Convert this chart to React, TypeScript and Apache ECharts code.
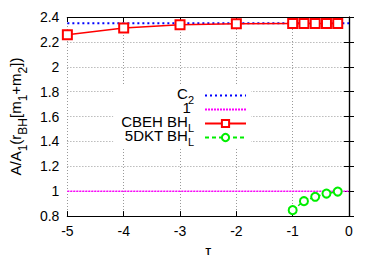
import React, { useEffect, useRef } from "react";
import * as echarts from "echarts";

const FONT = "Liberation Sans";
const xTicks = { min: -5, max: 0, interval: 1 };
const yTicks = { min: 0.8, max: 2.4, interval: 0.2 };

const c2Tau = [-5, 0];
const c2Val = [2.35, 2.35];
const oneTau = [-5, 0];
const oneVal = [1, 1];
const cbehTau = [-5, -4, -3, -2, -1, -0.8, -0.6, -0.4, -0.2];
const cbehVal = [2.257, 2.312, 2.337, 2.345, 2.347, 2.347, 2.347, 2.347, 2.347];
const dktTau = [-1, -0.8, -0.6, -0.4, -0.2];
const dktVal = [0.848, 0.92, 0.955, 0.981, 0.997];

const names = ["C2", "1", "CBEH BHL", "5DKT BHL"];
const legendRich: Record<string, string> = {
  C2: "{n|C}{s|2}",
  "1": "{n|1}{s| }",
  "CBEH BHL": "{n|CBEH BH}{s|L}",
  "5DKT BHL": "{n|5DKT BH}{s|L}",
};

const zip = (a: number[], b: number[]) => a.map((v, i) => [v, b[i]]);

export default function App() {
  const ref = useRef<HTMLDivElement>(null);
  useEffect(() => {
    const chart = echarts.init(ref.current!, undefined, { renderer: "svg" });
    const axisCommon = {
      axisLine: { show: true, lineStyle: { color: "#000", width: 1.2 } },
      axisTick: { show: true, inside: true, length: 5, lineStyle: { color: "#000" } },
    };
    chart.setOption({
      animation: false,
      backgroundColor: "#fff",
      grid: { left: 60, right: 26, top: 17, bottom: 38, containLabel: false },
      legend: {
        data: [
          { name: names[0], itemStyle: { opacity: 0 } },
          { name: names[1], itemStyle: { opacity: 0 } },
          { name: names[2] },
          { name: names[3] },
        ],
        orient: "vertical",
        align: "right",
        right: 124,
        top: 85,
        itemWidth: 41,
        itemHeight: 9,
        itemGap: -5,
        padding: [1, 4, 0, 8],
        backgroundColor: "#fff",
        selectedMode: false,
        formatter: (n: string) => legendRich[n],
        textStyle: {
          color: "#000",
          fontFamily: FONT,
          rich: {
            n: { fontSize: 15, fontFamily: FONT, color: "#000", verticalAlign: "top" },
            s: { fontSize: 11, fontFamily: FONT, color: "#000", padding: [8, 6, 0, 0], verticalAlign: "top" },
          },
        },
      },
      xAxis: [
        {
          type: "value",
          ...xTicks,
          position: "bottom",
          ...axisCommon,
          axisLabel: { color: "#000", fontSize: 14, fontFamily: FONT, margin: 8 },
          splitLine: { show: true, lineStyle: { color: "#999", type: [1, 2], width: 1 } },
          name: "τ",
          nameLocation: "middle",
          nameGap: 19,
          nameTextStyle: { color: "#000", fontSize: 15, fontFamily: FONT },
        },
        {
          type: "value",
          ...xTicks,
          position: "top",
          ...axisCommon,
          axisLabel: { show: false },
          splitLine: { show: false },
        },
      ],
      yAxis: [
        {
          type: "value",
          ...yTicks,
          position: "left",
          ...axisCommon,
          axisLabel: { color: "#000", fontSize: 14, fontFamily: FONT, margin: 8 },
          splitLine: { show: true, lineStyle: { color: "#999", type: [1, 2], width: 1 } },
          name: "{n|A/A}{s|1}{n|(r}{s|BH}{n|[m}{s|1}{n|+m}{s|2}{n|])}",
          nameLocation: "middle",
          nameRotate: 90,
          nameGap: 36,
          nameTextStyle: {
            color: "#000",
            fontFamily: FONT,
            rich: {
              n: { fontSize: 15, fontFamily: FONT, color: "#000", verticalAlign: "top" },
              s: { fontSize: 12, fontFamily: FONT, color: "#000", padding: [9, 0, 0, 0], verticalAlign: "top" },
            },
          },
        },
        {
          type: "value",
          ...yTicks,
          position: "right",
          ...axisCommon,
          axisLabel: { show: false },
          splitLine: { show: false },
        },
      ],
      series: [
        {
          name: names[0],
          type: "line",
          data: zip(c2Tau, c2Val),
          symbol: "none",
          color: "#0000ff",
          lineStyle: { color: "#0000ff", width: 2, type: [2, 3] },
          z: 3,
        },
        {
          name: names[1],
          type: "line",
          data: zip(oneTau, oneVal),
          symbol: "none",
          color: "#ff00ff",
          lineStyle: { color: "#ff00ff", width: 1.5, type: [2, 1] },
          z: 3,
        },
        {
          name: names[2],
          type: "line",
          data: zip(cbehTau, cbehVal),
          symbol: "emptyRect",
          symbolSize: 9,
          showAllSymbol: true,
          color: "#ff0000",
          itemStyle: { color: "#ff0000", borderColor: "#ff0000", borderWidth: 1.5 },
          lineStyle: { color: "#ff0000", width: 1.5 },
          z: 4,
        },
        {
          name: names[3],
          type: "line",
          data: zip(dktTau, dktVal),
          symbol: "emptyCircle",
          symbolSize: 8,
          showAllSymbol: true,
          color: "#00ee00",
          itemStyle: { color: "#00ee00", borderColor: "#00ee00", borderWidth: 1.5 },
          lineStyle: { color: "#00ee00", width: 1.5, type: [4, 3] },
          z: 4,
        },
      ],
    });
    return () => chart.dispose();
  }, []);
  return <div ref={ref} style={{ width: 375, height: 263, margin: -8 }} />;
}
